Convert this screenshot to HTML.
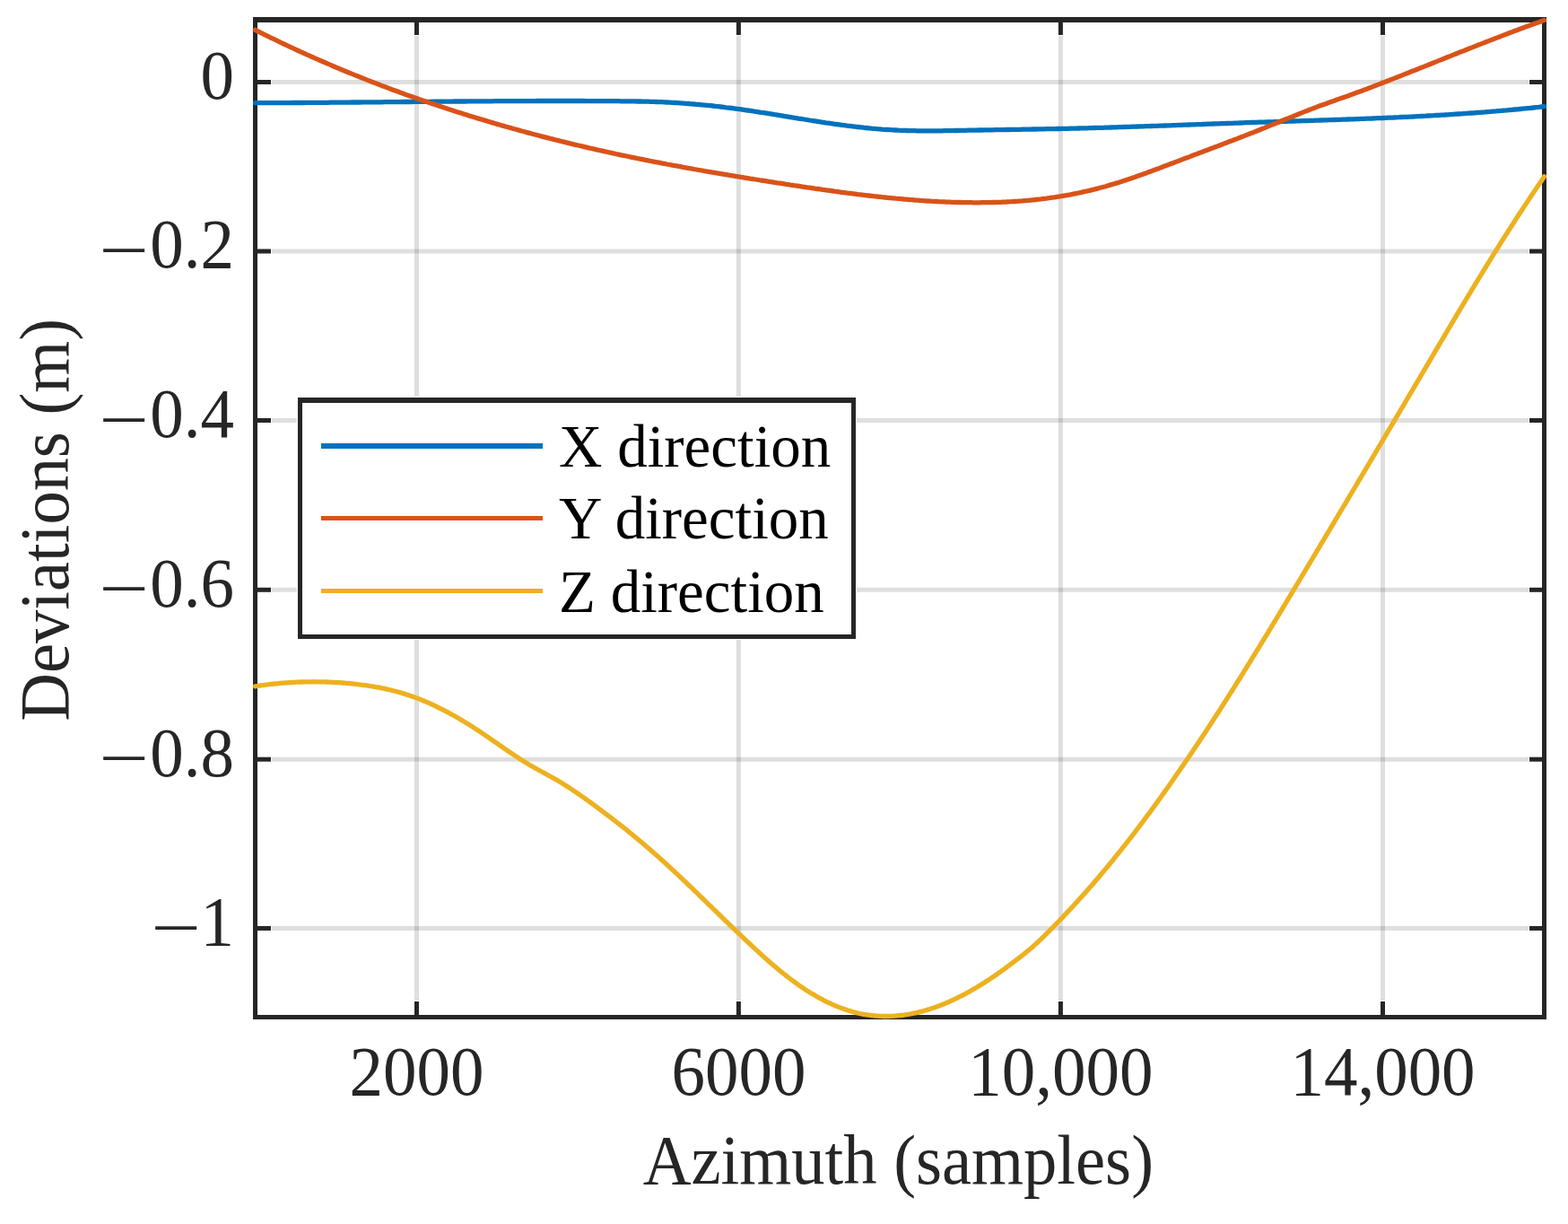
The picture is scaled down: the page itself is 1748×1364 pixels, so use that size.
<!DOCTYPE html>
<html><head><meta charset="utf-8"><title>Deviations plot</title>
<style>html,body{margin:0;padding:0;background:#fff;}svg{display:block;}svg text{font-family:"Liberation Serif","DejaVu Serif",serif;}</style></head>
<body><svg width="1748" height="1364" viewBox="0 0 1748 1364">
<rect width="1748" height="1364" fill="#fff"/>
<line x1="464.50" y1="40" x2="464.50" y2="1115" stroke="#262626" stroke-opacity="0.15" stroke-width="5"/>
<line x1="823.40" y1="40" x2="823.40" y2="1115" stroke="#262626" stroke-opacity="0.15" stroke-width="5"/>
<line x1="1182.40" y1="40" x2="1182.40" y2="1115" stroke="#262626" stroke-opacity="0.15" stroke-width="5"/>
<line x1="1541.50" y1="40" x2="1541.50" y2="1115" stroke="#262626" stroke-opacity="0.15" stroke-width="5"/>
<line x1="303" y1="91.50" x2="1704" y2="91.50" stroke="#262626" stroke-opacity="0.15" stroke-width="5"/>
<line x1="303" y1="280.00" x2="1704" y2="280.00" stroke="#262626" stroke-opacity="0.15" stroke-width="5"/>
<line x1="303" y1="468.50" x2="1704" y2="468.50" stroke="#262626" stroke-opacity="0.15" stroke-width="5"/>
<line x1="303" y1="657.30" x2="1704" y2="657.30" stroke="#262626" stroke-opacity="0.15" stroke-width="5"/>
<line x1="303" y1="846.20" x2="1704" y2="846.20" stroke="#262626" stroke-opacity="0.15" stroke-width="5"/>
<line x1="303" y1="1034.50" x2="1704" y2="1034.50" stroke="#262626" stroke-opacity="0.15" stroke-width="5"/>
<line x1="464.50" y1="1131" x2="464.50" y2="1116" stroke="#262626" stroke-width="5"/>
<line x1="464.50" y1="25" x2="464.50" y2="39" stroke="#262626" stroke-width="5"/>
<line x1="823.40" y1="1131" x2="823.40" y2="1116" stroke="#262626" stroke-width="5"/>
<line x1="823.40" y1="25" x2="823.40" y2="39" stroke="#262626" stroke-width="5"/>
<line x1="1182.40" y1="1131" x2="1182.40" y2="1116" stroke="#262626" stroke-width="5"/>
<line x1="1182.40" y1="25" x2="1182.40" y2="39" stroke="#262626" stroke-width="5"/>
<line x1="1541.50" y1="1131" x2="1541.50" y2="1116" stroke="#262626" stroke-width="5"/>
<line x1="1541.50" y1="25" x2="1541.50" y2="39" stroke="#262626" stroke-width="5"/>
<line x1="287" y1="91.50" x2="302" y2="91.50" stroke="#262626" stroke-width="5"/>
<line x1="1719" y1="91.50" x2="1705" y2="91.50" stroke="#262626" stroke-width="5"/>
<line x1="287" y1="280.00" x2="302" y2="280.00" stroke="#262626" stroke-width="5"/>
<line x1="1719" y1="280.00" x2="1705" y2="280.00" stroke="#262626" stroke-width="5"/>
<line x1="287" y1="468.50" x2="302" y2="468.50" stroke="#262626" stroke-width="5"/>
<line x1="1719" y1="468.50" x2="1705" y2="468.50" stroke="#262626" stroke-width="5"/>
<line x1="287" y1="657.30" x2="302" y2="657.30" stroke="#262626" stroke-width="5"/>
<line x1="1719" y1="657.30" x2="1705" y2="657.30" stroke="#262626" stroke-width="5"/>
<line x1="287" y1="846.20" x2="302" y2="846.20" stroke="#262626" stroke-width="5"/>
<line x1="1719" y1="846.20" x2="1705" y2="846.20" stroke="#262626" stroke-width="5"/>
<line x1="287" y1="1034.50" x2="302" y2="1034.50" stroke="#262626" stroke-width="5"/>
<line x1="1719" y1="1034.50" x2="1705" y2="1034.50" stroke="#262626" stroke-width="5"/>
<rect x="282" y="19" width="1442" height="6" fill="#262626"/>
<rect x="282" y="1131" width="1442" height="5" fill="#262626"/>
<rect x="282" y="19" width="5" height="1117" fill="#262626"/>
<rect x="1719" y="19" width="5" height="1117" fill="#262626"/>
<polyline points="284.5,114.7 287.5,114.7 290.5,114.7 293.5,114.7 296.5,114.7 299.5,114.7 302.5,114.7 305.5,114.7 308.5,114.6 311.5,114.6 314.5,114.6 317.5,114.6 320.5,114.6 323.5,114.6 326.5,114.5 329.5,114.5 332.5,114.5 335.5,114.5 338.5,114.5 341.5,114.4 344.5,114.4 347.5,114.4 350.5,114.4 353.5,114.4 356.5,114.3 359.5,114.3 362.5,114.3 365.5,114.3 368.5,114.2 371.5,114.2 374.5,114.2 377.5,114.2 380.5,114.1 383.5,114.1 386.5,114.1 389.5,114.1 392.5,114.0 395.5,114.0 398.5,114.0 401.5,114.0 404.5,113.9 407.5,113.9 410.5,113.9 413.5,113.9 416.5,113.8 419.5,113.8 422.5,113.8 425.5,113.8 428.5,113.7 431.5,113.7 434.5,113.7 437.5,113.6 440.5,113.6 443.5,113.6 446.5,113.6 449.5,113.5 452.5,113.5 455.5,113.5 458.5,113.5 461.5,113.4 464.5,113.4 467.5,113.4 470.5,113.3 473.5,113.3 476.5,113.3 479.5,113.3 482.5,113.2 485.5,113.2 488.5,113.2 491.5,113.2 494.5,113.1 497.5,113.1 500.5,113.1 503.5,113.1 506.5,113.0 509.5,113.0 512.5,113.0 515.5,113.0 518.5,113.0 521.5,112.9 524.5,112.9 527.5,112.9 530.5,112.9 533.5,112.9 536.5,112.8 539.5,112.8 542.5,112.8 545.5,112.8 548.5,112.8 551.5,112.7 554.5,112.7 557.5,112.7 560.5,112.7 563.5,112.7 566.5,112.7 569.5,112.6 572.5,112.6 575.5,112.6 578.5,112.6 581.5,112.6 584.5,112.6 587.5,112.6 590.5,112.6 593.5,112.6 596.5,112.6 599.5,112.5 602.5,112.5 605.5,112.5 608.5,112.5 611.5,112.5 614.5,112.5 617.5,112.5 620.5,112.5 623.5,112.5 626.5,112.5 629.5,112.5 632.5,112.5 635.5,112.5 638.5,112.5 641.5,112.5 644.5,112.5 647.5,112.5 650.5,112.5 653.5,112.6 656.5,112.6 659.5,112.6 662.5,112.6 665.5,112.6 668.5,112.6 671.5,112.6 674.5,112.6 677.5,112.7 680.5,112.7 683.5,112.7 686.5,112.7 689.5,112.7 692.5,112.8 695.5,112.8 698.5,112.8 701.5,112.9 704.5,112.9 707.5,112.9 710.5,113.0 713.5,113.0 716.5,113.1 719.5,113.2 722.5,113.2 725.5,113.3 728.5,113.4 731.5,113.5 734.5,113.6 737.5,113.7 740.5,113.9 743.5,114.0 746.5,114.1 749.5,114.3 752.5,114.5 755.5,114.7 758.5,114.9 761.5,115.1 764.5,115.3 767.5,115.5 770.5,115.8 773.5,116.0 776.5,116.3 779.5,116.5 782.5,116.8 785.5,117.1 788.5,117.4 791.5,117.7 794.5,118.0 797.5,118.4 800.5,118.7 803.5,119.0 806.5,119.4 809.5,119.8 812.5,120.1 815.5,120.5 818.5,120.9 821.5,121.3 824.5,121.7 827.5,122.1 830.5,122.6 833.5,123.0 836.5,123.4 839.5,123.9 842.5,124.3 845.5,124.8 848.5,125.3 851.5,125.7 854.5,126.2 857.5,126.7 860.5,127.2 863.5,127.7 866.5,128.1 869.5,128.6 872.5,129.1 875.5,129.6 878.5,130.1 881.5,130.6 884.5,131.1 887.5,131.6 890.5,132.1 893.5,132.5 896.5,133.0 899.5,133.5 902.5,134.0 905.5,134.5 908.5,134.9 911.5,135.4 914.5,135.9 917.5,136.3 920.5,136.8 923.5,137.2 926.5,137.6 929.5,138.1 932.5,138.5 935.5,138.9 938.5,139.3 941.5,139.7 944.5,140.1 947.5,140.4 950.5,140.8 953.5,141.2 956.5,141.5 959.5,141.8 962.5,142.2 965.5,142.5 968.5,142.8 971.5,143.1 974.5,143.3 977.5,143.6 980.5,143.8 983.5,144.1 986.5,144.3 989.5,144.5 992.5,144.7 995.5,144.9 998.5,145.0 1001.5,145.2 1004.5,145.3 1007.5,145.4 1010.5,145.5 1013.5,145.6 1016.5,145.7 1019.5,145.7 1022.5,145.8 1025.5,145.8 1028.5,145.8 1031.5,145.8 1034.5,145.8 1037.5,145.8 1040.5,145.8 1043.5,145.8 1046.5,145.8 1049.5,145.8 1052.5,145.7 1055.5,145.7 1058.5,145.6 1061.5,145.6 1064.5,145.5 1067.5,145.5 1070.5,145.4 1073.5,145.4 1076.5,145.3 1079.5,145.2 1082.5,145.2 1085.5,145.1 1088.5,145.1 1091.5,145.0 1094.5,145.0 1097.5,144.9 1100.5,144.9 1103.5,144.8 1106.5,144.8 1109.5,144.7 1112.5,144.7 1115.5,144.6 1118.5,144.6 1121.5,144.5 1124.5,144.5 1127.5,144.4 1130.5,144.4 1133.5,144.3 1136.5,144.3 1139.5,144.2 1142.5,144.2 1145.5,144.1 1148.5,144.1 1151.5,144.0 1154.5,144.0 1157.5,143.9 1160.5,143.9 1163.5,143.8 1166.5,143.7 1169.5,143.7 1172.5,143.6 1175.5,143.6 1178.5,143.5 1181.5,143.5 1184.5,143.4 1187.5,143.3 1190.5,143.3 1193.5,143.2 1196.5,143.1 1199.5,143.1 1202.5,143.0 1205.5,142.9 1208.5,142.8 1211.5,142.8 1214.5,142.7 1217.5,142.6 1220.5,142.5 1223.5,142.4 1226.5,142.3 1229.5,142.3 1232.5,142.2 1235.5,142.1 1238.5,142.0 1241.5,141.9 1244.5,141.8 1247.5,141.7 1250.5,141.6 1253.5,141.5 1256.5,141.4 1259.5,141.3 1262.5,141.2 1265.5,141.1 1268.5,141.0 1271.5,140.9 1274.5,140.8 1277.5,140.7 1280.5,140.6 1283.5,140.5 1286.5,140.4 1289.5,140.3 1292.5,140.2 1295.5,140.1 1298.5,140.0 1301.5,139.9 1304.5,139.8 1307.5,139.7 1310.5,139.6 1313.5,139.4 1316.5,139.3 1319.5,139.2 1322.5,139.1 1325.5,139.0 1328.5,138.9 1331.5,138.8 1334.5,138.7 1337.5,138.6 1340.5,138.5 1343.5,138.3 1346.5,138.2 1349.5,138.1 1352.5,138.0 1355.5,137.9 1358.5,137.8 1361.5,137.7 1364.5,137.6 1367.5,137.5 1370.5,137.4 1373.5,137.3 1376.5,137.2 1379.5,137.1 1382.5,137.0 1385.5,136.9 1388.5,136.7 1391.5,136.6 1394.5,136.5 1397.5,136.4 1400.5,136.3 1403.5,136.2 1406.5,136.2 1409.5,136.1 1412.5,136.0 1415.5,135.9 1418.5,135.8 1421.5,135.7 1424.5,135.6 1427.5,135.5 1430.5,135.4 1433.5,135.3 1436.5,135.2 1439.5,135.1 1442.5,135.0 1445.5,134.9 1448.5,134.8 1451.5,134.7 1454.5,134.6 1457.5,134.5 1460.5,134.4 1463.5,134.3 1466.5,134.2 1469.5,134.1 1472.5,134.0 1475.5,133.9 1478.5,133.8 1481.5,133.7 1484.5,133.6 1487.5,133.5 1490.5,133.4 1493.5,133.3 1496.5,133.2 1499.5,133.1 1502.5,133.0 1505.5,132.9 1508.5,132.8 1511.5,132.7 1514.5,132.6 1517.5,132.4 1520.5,132.3 1523.5,132.2 1526.5,132.1 1529.5,132.0 1532.5,131.8 1535.5,131.7 1538.5,131.6 1541.5,131.5 1544.5,131.3 1547.5,131.2 1550.5,131.1 1553.5,131.0 1556.5,130.8 1559.5,130.7 1562.5,130.5 1565.5,130.4 1568.5,130.3 1571.5,130.1 1574.5,130.0 1577.5,129.8 1580.5,129.6 1583.5,129.5 1586.5,129.3 1589.5,129.2 1592.5,129.0 1595.5,128.8 1598.5,128.7 1601.5,128.5 1604.5,128.3 1607.5,128.1 1610.5,128.0 1613.5,127.8 1616.5,127.6 1619.5,127.4 1622.5,127.2 1625.5,127.0 1628.5,126.8 1631.5,126.6 1634.5,126.4 1637.5,126.2 1640.5,126.0 1643.5,125.8 1646.5,125.5 1649.5,125.3 1652.5,125.1 1655.5,124.9 1658.5,124.6 1661.5,124.4 1664.5,124.1 1667.5,123.9 1670.5,123.6 1673.5,123.4 1676.5,123.1 1679.5,122.9 1682.5,122.6 1685.5,122.3 1688.5,122.0 1691.5,121.8 1694.5,121.5 1697.5,121.2 1700.5,120.9 1703.5,120.6 1706.5,120.3 1709.5,120.0 1712.5,119.7 1715.5,119.4 1718.5,119.0 1721.5,118.7" fill="none" stroke="#0072BD" stroke-width="5.3" stroke-linejoin="round" stroke-linecap="round"/>
<polyline points="284.5,33.3 287.5,34.8 290.5,36.4 293.5,37.8 296.5,39.3 299.5,40.8 302.5,42.3 305.5,43.7 308.5,45.2 311.5,46.6 314.5,48.1 317.5,49.5 320.5,50.9 323.5,52.3 326.5,53.7 329.5,55.1 332.5,56.5 335.5,57.9 338.5,59.2 341.5,60.6 344.5,61.9 347.5,63.3 350.5,64.6 353.5,65.9 356.5,67.2 359.5,68.5 362.5,69.8 365.5,71.1 368.5,72.4 371.5,73.7 374.5,75.0 377.5,76.2 380.5,77.5 383.5,78.7 386.5,80.0 389.5,81.2 392.5,82.4 395.5,83.6 398.5,84.8 401.5,86.0 404.5,87.2 407.5,88.4 410.5,89.6 413.5,90.8 416.5,91.9 419.5,93.1 422.5,94.2 425.5,95.4 428.5,96.5 431.5,97.6 434.5,98.8 437.5,99.9 440.5,101.0 443.5,102.1 446.5,103.2 449.5,104.3 452.5,105.4 455.5,106.4 458.5,107.5 461.5,108.6 464.5,109.6 467.5,110.7 470.5,111.7 473.5,112.7 476.5,113.8 479.5,114.8 482.5,115.8 485.5,116.8 488.5,117.8 491.5,118.8 494.5,119.8 497.5,120.8 500.5,121.8 503.5,122.7 506.5,123.7 509.5,124.7 512.5,125.6 515.5,126.6 518.5,127.5 521.5,128.4 524.5,129.4 527.5,130.3 530.5,131.2 533.5,132.1 536.5,133.0 539.5,133.9 542.5,134.8 545.5,135.7 548.5,136.6 551.5,137.5 554.5,138.4 557.5,139.2 560.5,140.1 563.5,141.0 566.5,141.8 569.5,142.6 572.5,143.5 575.5,144.3 578.5,145.1 581.5,146.0 584.5,146.8 587.5,147.6 590.5,148.4 593.5,149.2 596.5,150.0 599.5,150.8 602.5,151.6 605.5,152.4 608.5,153.1 611.5,153.9 614.5,154.7 617.5,155.4 620.5,156.2 623.5,156.9 626.5,157.7 629.5,158.4 632.5,159.1 635.5,159.9 638.5,160.6 641.5,161.3 644.5,162.0 647.5,162.7 650.5,163.4 653.5,164.1 656.5,164.8 659.5,165.5 662.5,166.2 665.5,166.9 668.5,167.5 671.5,168.2 674.5,168.9 677.5,169.5 680.5,170.2 683.5,170.8 686.5,171.5 689.5,172.1 692.5,172.8 695.5,173.4 698.5,174.0 701.5,174.7 704.5,175.3 707.5,175.9 710.5,176.5 713.5,177.1 716.5,177.7 719.5,178.3 722.5,178.9 725.5,179.5 728.5,180.1 731.5,180.7 734.5,181.2 737.5,181.8 740.5,182.4 743.5,183.0 746.5,183.5 749.5,184.1 752.5,184.6 755.5,185.2 758.5,185.7 761.5,186.3 764.5,186.8 767.5,187.4 770.5,187.9 773.5,188.5 776.5,189.0 779.5,189.5 782.5,190.0 785.5,190.6 788.5,191.1 791.5,191.6 794.5,192.1 797.5,192.6 800.5,193.1 803.5,193.6 806.5,194.1 809.5,194.6 812.5,195.1 815.5,195.6 818.5,196.1 821.5,196.6 824.5,197.1 827.5,197.6 830.5,198.1 833.5,198.6 836.5,199.1 839.5,199.5 842.5,200.0 845.5,200.5 848.5,201.0 851.5,201.4 854.5,201.9 857.5,202.4 860.5,202.8 863.5,203.3 866.5,203.8 869.5,204.2 872.5,204.7 875.5,205.2 878.5,205.6 881.5,206.1 884.5,206.5 887.5,207.0 890.5,207.4 893.5,207.9 896.5,208.3 899.5,208.8 902.5,209.2 905.5,209.6 908.5,210.1 911.5,210.5 914.5,210.9 917.5,211.4 920.5,211.8 923.5,212.2 926.5,212.6 929.5,213.0 932.5,213.5 935.5,213.9 938.5,214.3 941.5,214.7 944.5,215.1 947.5,215.4 950.5,215.8 953.5,216.2 956.5,216.6 959.5,216.9 962.5,217.3 965.5,217.7 968.5,218.0 971.5,218.3 974.5,218.7 977.5,219.0 980.5,219.3 983.5,219.7 986.5,220.0 989.5,220.3 992.5,220.6 995.5,220.9 998.5,221.2 1001.5,221.4 1004.5,221.7 1007.5,222.0 1010.5,222.2 1013.5,222.5 1016.5,222.7 1019.5,223.0 1022.5,223.2 1025.5,223.4 1028.5,223.6 1031.5,223.8 1034.5,224.0 1037.5,224.2 1040.5,224.3 1043.5,224.5 1046.5,224.7 1049.5,224.8 1052.5,224.9 1055.5,225.1 1058.5,225.2 1061.5,225.3 1064.5,225.4 1067.5,225.5 1070.5,225.5 1073.5,225.6 1076.5,225.7 1079.5,225.7 1082.5,225.7 1085.5,225.8 1088.5,225.8 1091.5,225.8 1094.5,225.7 1097.5,225.7 1100.5,225.7 1103.5,225.6 1106.5,225.5 1109.5,225.5 1112.5,225.4 1115.5,225.3 1118.5,225.1 1121.5,225.0 1124.5,224.8 1127.5,224.7 1130.5,224.5 1133.5,224.3 1136.5,224.1 1139.5,223.9 1142.5,223.6 1145.5,223.4 1148.5,223.1 1151.5,222.8 1154.5,222.5 1157.5,222.1 1160.5,221.8 1163.5,221.4 1166.5,221.1 1169.5,220.7 1172.5,220.2 1175.5,219.8 1178.5,219.3 1181.5,218.9 1184.5,218.4 1187.5,217.9 1190.5,217.3 1193.5,216.8 1196.5,216.2 1199.5,215.6 1202.5,215.0 1205.5,214.4 1208.5,213.7 1211.5,213.0 1214.5,212.3 1217.5,211.6 1220.5,210.9 1223.5,210.1 1226.5,209.3 1229.5,208.5 1232.5,207.7 1235.5,206.8 1238.5,205.9 1241.5,205.0 1244.5,204.1 1247.5,203.2 1250.5,202.2 1253.5,201.2 1256.5,200.2 1259.5,199.2 1262.5,198.2 1265.5,197.2 1268.5,196.1 1271.5,195.1 1274.5,194.0 1277.5,192.9 1280.5,191.8 1283.5,190.7 1286.5,189.6 1289.5,188.5 1292.5,187.4 1295.5,186.2 1298.5,185.1 1301.5,184.0 1304.5,182.8 1307.5,181.7 1310.5,180.6 1313.5,179.4 1316.5,178.3 1319.5,177.1 1322.5,176.0 1325.5,174.9 1328.5,173.7 1331.5,172.6 1334.5,171.5 1337.5,170.3 1340.5,169.2 1343.5,168.1 1346.5,167.0 1349.5,165.8 1352.5,164.7 1355.5,163.6 1358.5,162.4 1361.5,161.3 1364.5,160.1 1367.5,159.0 1370.5,157.8 1373.5,156.7 1376.5,155.5 1379.5,154.4 1382.5,153.2 1385.5,152.1 1388.5,150.9 1391.5,149.7 1394.5,148.5 1397.5,147.4 1400.5,146.2 1403.5,145.0 1406.5,143.8 1409.5,142.6 1412.5,141.3 1415.5,140.1 1418.5,138.9 1421.5,137.7 1424.5,136.5 1427.5,135.2 1430.5,134.0 1433.5,132.8 1436.5,131.6 1439.5,130.4 1442.5,129.2 1445.5,128.0 1448.5,126.8 1451.5,125.6 1454.5,124.4 1457.5,123.2 1460.5,122.1 1463.5,120.9 1466.5,119.8 1469.5,118.6 1472.5,117.5 1475.5,116.4 1478.5,115.4 1481.5,114.3 1484.5,113.2 1487.5,112.2 1490.5,111.1 1493.5,110.1 1496.5,109.0 1499.5,108.0 1502.5,106.9 1505.5,105.8 1508.5,104.7 1511.5,103.6 1514.5,102.5 1517.5,101.4 1520.5,100.3 1523.5,99.2 1526.5,98.0 1529.5,96.9 1532.5,95.7 1535.5,94.6 1538.5,93.4 1541.5,92.3 1544.5,91.1 1547.5,90.0 1550.5,88.8 1553.5,87.6 1556.5,86.4 1559.5,85.3 1562.5,84.1 1565.5,82.9 1568.5,81.7 1571.5,80.5 1574.5,79.3 1577.5,78.2 1580.5,77.0 1583.5,75.8 1586.5,74.6 1589.5,73.4 1592.5,72.2 1595.5,71.0 1598.5,69.8 1601.5,68.6 1604.5,67.4 1607.5,66.2 1610.5,65.0 1613.5,63.8 1616.5,62.6 1619.5,61.4 1622.5,60.2 1625.5,59.0 1628.5,57.8 1631.5,56.7 1634.5,55.5 1637.5,54.3 1640.5,53.1 1643.5,51.9 1646.5,50.7 1649.5,49.6 1652.5,48.4 1655.5,47.2 1658.5,46.1 1661.5,44.9 1664.5,43.7 1667.5,42.6 1670.5,41.4 1673.5,40.3 1676.5,39.1 1679.5,38.0 1682.5,36.8 1685.5,35.7 1688.5,34.6 1691.5,33.5 1694.5,32.3 1697.5,31.2 1700.5,30.1 1703.5,29.0 1706.5,27.9 1709.5,26.8 1712.5,25.7 1715.5,24.7 1718.5,23.6 1721.5,22.5" fill="none" stroke="#D95319" stroke-width="5.3" stroke-linejoin="round" stroke-linecap="round"/>
<polyline points="284.5,764.8 286.5,764.5 288.5,764.2 290.5,763.9 292.5,763.6 294.5,763.4 296.5,763.1 298.5,762.9 300.5,762.6 302.5,762.4 304.5,762.2 306.5,762.0 308.5,761.8 310.5,761.6 312.5,761.4 314.5,761.2 316.5,761.1 318.5,760.9 320.5,760.8 322.5,760.6 324.5,760.5 326.5,760.4 328.5,760.3 330.5,760.2 332.5,760.1 334.5,760.0 336.5,760.0 338.5,759.9 340.5,759.9 342.5,759.8 344.5,759.8 346.5,759.8 348.5,759.8 350.5,759.7 352.5,759.8 354.5,759.8 356.5,759.8 358.5,759.8 360.5,759.9 362.5,759.9 364.5,760.0 366.5,760.1 368.5,760.2 370.5,760.3 372.5,760.4 374.5,760.5 376.5,760.6 378.5,760.7 380.5,760.9 382.5,761.0 384.5,761.2 386.5,761.3 388.5,761.5 390.5,761.7 392.5,761.9 394.5,762.1 396.5,762.3 398.5,762.6 400.5,762.8 402.5,763.1 404.5,763.3 406.5,763.6 408.5,763.9 410.5,764.2 412.5,764.5 414.5,764.8 416.5,765.1 418.5,765.5 420.5,765.8 422.5,766.2 424.5,766.6 426.5,767.0 428.5,767.4 430.5,767.9 432.5,768.3 434.5,768.8 436.5,769.3 438.5,769.8 440.5,770.3 442.5,770.8 444.5,771.3 446.5,771.9 448.5,772.5 450.5,773.1 452.5,773.7 454.5,774.4 456.5,775.0 458.5,775.7 460.5,776.4 462.5,777.1 464.5,777.9 466.5,778.6 468.5,779.4 470.5,780.2 472.5,781.0 474.5,781.9 476.5,782.7 478.5,783.6 480.5,784.5 482.5,785.4 484.5,786.4 486.5,787.3 488.5,788.3 490.5,789.3 492.5,790.3 494.5,791.3 496.5,792.4 498.5,793.4 500.5,794.5 502.5,795.6 504.5,796.7 506.5,797.8 508.5,798.9 510.5,800.1 512.5,801.3 514.5,802.4 516.5,803.6 518.5,804.9 520.5,806.1 522.5,807.3 524.5,808.6 526.5,809.8 528.5,811.1 530.5,812.4 532.5,813.7 534.5,815.0 536.5,816.4 538.5,817.7 540.5,819.1 542.5,820.4 544.5,821.8 546.5,823.2 548.5,824.6 550.5,826.0 552.5,827.3 554.5,828.7 556.5,830.1 558.5,831.5 560.5,832.9 562.5,834.3 564.5,835.7 566.5,837.0 568.5,838.4 570.5,839.7 572.5,841.1 574.5,842.4 576.5,843.7 578.5,845.0 580.5,846.3 582.5,847.6 584.5,848.8 586.5,850.1 588.5,851.3 590.5,852.5 592.5,853.6 594.5,854.8 596.5,855.9 598.5,857.0 600.5,858.1 602.5,859.2 604.5,860.3 606.5,861.4 608.5,862.5 610.5,863.6 612.5,864.7 614.5,865.8 616.5,866.9 618.5,868.0 620.5,869.1 622.5,870.3 624.5,871.5 626.5,872.7 628.5,873.9 630.5,875.2 632.5,876.5 634.5,877.8 636.5,879.1 638.5,880.4 640.5,881.8 642.5,883.1 644.5,884.5 646.5,885.9 648.5,887.3 650.5,888.7 652.5,890.1 654.5,891.5 656.5,893.0 658.5,894.4 660.5,895.9 662.5,897.3 664.5,898.8 666.5,900.3 668.5,901.8 670.5,903.3 672.5,904.8 674.5,906.3 676.5,907.8 678.5,909.3 680.5,910.8 682.5,912.4 684.5,913.9 686.5,915.5 688.5,917.0 690.5,918.6 692.5,920.2 694.5,921.7 696.5,923.3 698.5,924.9 700.5,926.5 702.5,928.2 704.5,929.8 706.5,931.4 708.5,933.1 710.5,934.7 712.5,936.4 714.5,938.1 716.5,939.8 718.5,941.5 720.5,943.2 722.5,944.9 724.5,946.6 726.5,948.4 728.5,950.1 730.5,951.9 732.5,953.6 734.5,955.4 736.5,957.2 738.5,959.0 740.5,960.8 742.5,962.6 744.5,964.5 746.5,966.3 748.5,968.2 750.5,970.0 752.5,971.9 754.5,973.7 756.5,975.6 758.5,977.5 760.5,979.4 762.5,981.3 764.5,983.2 766.5,985.1 768.5,987.0 770.5,988.9 772.5,990.8 774.5,992.8 776.5,994.7 778.5,996.6 780.5,998.6 782.5,1000.5 784.5,1002.4 786.5,1004.4 788.5,1006.3 790.5,1008.3 792.5,1010.2 794.5,1012.2 796.5,1014.1 798.5,1016.0 800.5,1018.0 802.5,1019.9 804.5,1021.9 806.5,1023.8 808.5,1025.8 810.5,1027.7 812.5,1029.6 814.5,1031.6 816.5,1033.5 818.5,1035.4 820.5,1037.3 822.5,1039.2 824.5,1041.2 826.5,1043.1 828.5,1045.0 830.5,1046.9 832.5,1048.7 834.5,1050.6 836.5,1052.5 838.5,1054.4 840.5,1056.2 842.5,1058.1 844.5,1059.9 846.5,1061.7 848.5,1063.6 850.5,1065.4 852.5,1067.2 854.5,1068.9 856.5,1070.7 858.5,1072.5 860.5,1074.2 862.5,1075.9 864.5,1077.6 866.5,1079.3 868.5,1081.0 870.5,1082.6 872.5,1084.2 874.5,1085.8 876.5,1087.4 878.5,1089.0 880.5,1090.5 882.5,1092.0 884.5,1093.5 886.5,1094.9 888.5,1096.4 890.5,1097.8 892.5,1099.2 894.5,1100.5 896.5,1101.9 898.5,1103.2 900.5,1104.4 902.5,1105.7 904.5,1106.9 906.5,1108.1 908.5,1109.3 910.5,1110.5 912.5,1111.6 914.5,1112.7 916.5,1113.7 918.5,1114.8 920.5,1115.8 922.5,1116.8 924.5,1117.7 926.5,1118.7 928.5,1119.6 930.5,1120.4 932.5,1121.3 934.5,1122.1 936.5,1122.9 938.5,1123.6 940.5,1124.4 942.5,1125.0 944.5,1125.7 946.5,1126.3 948.5,1126.9 950.5,1127.5 952.5,1128.0 954.5,1128.6 956.5,1129.0 958.5,1129.5 960.5,1129.9 962.5,1130.3 964.5,1130.6 966.5,1130.9 968.5,1131.2 970.5,1131.5 972.5,1131.7 974.5,1131.9 976.5,1132.1 978.5,1132.2 980.5,1132.4 982.5,1132.4 984.5,1132.5 986.5,1132.5 988.5,1132.5 990.5,1132.5 992.5,1132.4 994.5,1132.4 996.5,1132.2 998.5,1132.1 1000.5,1131.9 1002.5,1131.7 1004.5,1131.5 1006.5,1131.3 1008.5,1131.0 1010.5,1130.7 1012.5,1130.4 1014.5,1130.0 1016.5,1129.6 1018.5,1129.2 1020.5,1128.8 1022.5,1128.4 1024.5,1127.9 1026.5,1127.4 1028.5,1126.9 1030.5,1126.3 1032.5,1125.7 1034.5,1125.1 1036.5,1124.5 1038.5,1123.8 1040.5,1123.2 1042.5,1122.5 1044.5,1121.8 1046.5,1121.0 1048.5,1120.3 1050.5,1119.5 1052.5,1118.7 1054.5,1117.8 1056.5,1117.0 1058.5,1116.1 1060.5,1115.2 1062.5,1114.3 1064.5,1113.3 1066.5,1112.4 1068.5,1111.4 1070.5,1110.4 1072.5,1109.4 1074.5,1108.3 1076.5,1107.3 1078.5,1106.2 1080.5,1105.1 1082.5,1104.0 1084.5,1102.8 1086.5,1101.6 1088.5,1100.5 1090.5,1099.3 1092.5,1098.1 1094.5,1096.8 1096.5,1095.6 1098.5,1094.3 1100.5,1093.0 1102.5,1091.7 1104.5,1090.4 1106.5,1089.0 1108.5,1087.7 1110.5,1086.3 1112.5,1084.9 1114.5,1083.5 1116.5,1082.0 1118.5,1080.6 1120.5,1079.1 1122.5,1077.6 1124.5,1076.1 1126.5,1074.6 1128.5,1073.1 1130.5,1071.6 1132.5,1070.1 1134.5,1068.6 1136.5,1067.1 1138.5,1065.6 1140.5,1064.0 1142.5,1062.4 1144.5,1060.8 1146.5,1059.1 1148.5,1057.4 1150.5,1055.7 1152.5,1053.9 1154.5,1052.1 1156.5,1050.3 1158.5,1048.4 1160.5,1046.6 1162.5,1044.6 1164.5,1042.7 1166.5,1040.7 1168.5,1038.7 1170.5,1036.7 1172.5,1034.7 1174.5,1032.6 1176.5,1030.6 1178.5,1028.5 1180.5,1026.5 1182.5,1024.4 1184.5,1022.3 1186.5,1020.2 1188.5,1018.1 1190.5,1015.9 1192.5,1013.8 1194.5,1011.6 1196.5,1009.5 1198.5,1007.3 1200.5,1005.1 1202.5,1002.9 1204.5,1000.7 1206.5,998.5 1208.5,996.2 1210.5,994.0 1212.5,991.7 1214.5,989.4 1216.5,987.2 1218.5,984.9 1220.5,982.5 1222.5,980.2 1224.5,977.9 1226.5,975.5 1228.5,973.1 1230.5,970.8 1232.5,968.4 1234.5,966.0 1236.5,963.5 1238.5,961.1 1240.5,958.7 1242.5,956.2 1244.5,953.7 1246.5,951.2 1248.5,948.7 1250.5,946.2 1252.5,943.7 1254.5,941.2 1256.5,938.6 1258.5,936.0 1260.5,933.5 1262.5,930.9 1264.5,928.3 1266.5,925.7 1268.5,923.0 1270.5,920.4 1272.5,917.7 1274.5,915.1 1276.5,912.4 1278.5,909.7 1280.5,907.0 1282.5,904.3 1284.5,901.5 1286.5,898.8 1288.5,896.0 1290.5,893.3 1292.5,890.5 1294.5,887.7 1296.5,884.9 1298.5,882.1 1300.5,879.3 1302.5,876.4 1304.5,873.6 1306.5,870.8 1308.5,867.9 1310.5,865.0 1312.5,862.1 1314.5,859.2 1316.5,856.3 1318.5,853.4 1320.5,850.5 1322.5,847.6 1324.5,844.6 1326.5,841.7 1328.5,838.7 1330.5,835.8 1332.5,832.8 1334.5,829.8 1336.5,826.8 1338.5,823.8 1340.5,820.8 1342.5,817.7 1344.5,814.7 1346.5,811.6 1348.5,808.6 1350.5,805.5 1352.5,802.4 1354.5,799.4 1356.5,796.3 1358.5,793.2 1360.5,790.1 1362.5,786.9 1364.5,783.8 1366.5,780.7 1368.5,777.5 1370.5,774.4 1372.5,771.2 1374.5,768.1 1376.5,764.9 1378.5,761.7 1380.5,758.5 1382.5,755.3 1384.5,752.1 1386.5,748.9 1388.5,745.7 1390.5,742.4 1392.5,739.2 1394.5,736.0 1396.5,732.7 1398.5,729.5 1400.5,726.2 1402.5,723.0 1404.5,719.7 1406.5,716.4 1408.5,713.1 1410.5,709.9 1412.5,706.6 1414.5,703.3 1416.5,700.0 1418.5,696.7 1420.5,693.4 1422.5,690.1 1424.5,686.8 1426.5,683.4 1428.5,680.1 1430.5,676.8 1432.5,673.5 1434.5,670.2 1436.5,666.8 1438.5,663.5 1440.5,660.2 1442.5,656.8 1444.5,653.5 1446.5,650.2 1448.5,646.8 1450.5,643.5 1452.5,640.2 1454.5,636.8 1456.5,633.5 1458.5,630.2 1460.5,626.8 1462.5,623.5 1464.5,620.1 1466.5,616.8 1468.5,613.4 1470.5,610.1 1472.5,606.7 1474.5,603.4 1476.5,600.1 1478.5,596.7 1480.5,593.3 1482.5,590.0 1484.5,586.6 1486.5,583.3 1488.5,579.9 1490.5,576.6 1492.5,573.2 1494.5,569.9 1496.5,566.5 1498.5,563.1 1500.5,559.8 1502.5,556.4 1504.5,553.1 1506.5,549.7 1508.5,546.3 1510.5,543.0 1512.5,539.6 1514.5,536.2 1516.5,532.9 1518.5,529.5 1520.5,526.1 1522.5,522.8 1524.5,519.4 1526.5,516.0 1528.5,512.6 1530.5,509.3 1532.5,505.9 1534.5,502.5 1536.5,499.1 1538.5,495.8 1540.5,492.4 1542.5,489.0 1544.5,485.6 1546.5,482.2 1548.5,478.9 1550.5,475.5 1552.5,472.1 1554.5,468.7 1556.5,465.3 1558.5,461.9 1560.5,458.6 1562.5,455.2 1564.5,451.8 1566.5,448.4 1568.5,445.0 1570.5,441.6 1572.5,438.2 1574.5,434.8 1576.5,431.4 1578.5,428.0 1580.5,424.7 1582.5,421.3 1584.5,417.9 1586.5,414.5 1588.5,411.1 1590.5,407.7 1592.5,404.3 1594.5,400.9 1596.5,397.5 1598.5,394.1 1600.5,390.7 1602.5,387.3 1604.5,383.9 1606.5,380.5 1608.5,377.2 1610.5,373.8 1612.5,370.4 1614.5,367.0 1616.5,363.6 1618.5,360.3 1620.5,356.9 1622.5,353.6 1624.5,350.2 1626.5,346.9 1628.5,343.5 1630.5,340.2 1632.5,336.8 1634.5,333.5 1636.5,330.2 1638.5,326.9 1640.5,323.5 1642.5,320.2 1644.5,316.9 1646.5,313.7 1648.5,310.4 1650.5,307.1 1652.5,303.8 1654.5,300.6 1656.5,297.3 1658.5,294.1 1660.5,290.8 1662.5,287.6 1664.5,284.4 1666.5,281.2 1668.5,278.0 1670.5,274.8 1672.5,271.6 1674.5,268.4 1676.5,265.3 1678.5,262.1 1680.5,259.0 1682.5,255.8 1684.5,252.7 1686.5,249.6 1688.5,246.5 1690.5,243.4 1692.5,240.3 1694.5,237.3 1696.5,234.2 1698.5,231.1 1700.5,228.1 1702.5,225.1 1704.5,222.1 1706.5,219.0 1708.5,216.1 1710.5,213.1 1712.5,210.1 1714.5,207.1 1716.5,204.2 1718.5,201.2 1720.5,198.3 1721.5,196.8" fill="none" stroke="#EDB120" stroke-width="5.3" stroke-linejoin="round" stroke-linecap="round"/>
<text transform="translate(464.50,1219.8) scale(1,1.045)" text-anchor="middle" font-size="75"  fill="#262626">2000</text>
<text transform="translate(823.40,1219.8) scale(1,1.045)" text-anchor="middle" font-size="75"  fill="#262626">6000</text>
<text transform="translate(1182.40,1219.8) scale(1,1.045)" text-anchor="middle" font-size="75"  fill="#262626">10,000</text>
<text transform="translate(1541.50,1219.8) scale(1,1.045)" text-anchor="middle" font-size="75"  fill="#262626">14,000</text>
<text transform="translate(261,109.80) scale(1,1.045)" text-anchor="end" font-size="75"  fill="#262626">0</text>
<text transform="translate(109.97,304.00) scale(1.318,1)" font-size="75"  fill="#262626">−</text>
<text transform="translate(261,298.30) scale(1,1.045)" text-anchor="end" font-size="75"  fill="#262626">0.2</text>
<text transform="translate(109.97,492.50) scale(1.318,1)" font-size="75"  fill="#262626">−</text>
<text transform="translate(261,486.80) scale(1,1.045)" text-anchor="end" font-size="75"  fill="#262626">0.4</text>
<text transform="translate(109.97,681.30) scale(1.318,1)" font-size="75"  fill="#262626">−</text>
<text transform="translate(261,675.60) scale(1,1.045)" text-anchor="end" font-size="75"  fill="#262626">0.6</text>
<text transform="translate(109.97,870.20) scale(1.318,1)" font-size="75"  fill="#262626">−</text>
<text transform="translate(261,864.50) scale(1,1.045)" text-anchor="end" font-size="75"  fill="#262626">0.8</text>
<text transform="translate(167.97,1058.50) scale(1.318,1)" font-size="75"  fill="#262626">−</text>
<text transform="translate(261,1052.80) scale(1,1.045)" text-anchor="end" font-size="75"  fill="#262626">1</text>
<text transform="translate(1001.3,1318.8) scale(0.994,1.03)" text-anchor="middle" font-size="75"  fill="#262626">Azimuth (samples)</text>
<text transform="translate(75.6,579.4) rotate(-90) scale(0.993,1.03)" text-anchor="middle" font-size="75"  fill="#262626">Deviations (m)</text>
<rect x="331" y="442" width="624" height="271" fill="#fff"/>
<rect x="332" y="443" width="622" height="6" fill="#262626"/>
<rect x="332" y="707" width="622" height="5" fill="#262626"/>
<rect x="332" y="443" width="5" height="269" fill="#262626"/>
<rect x="949" y="443" width="5" height="269" fill="#262626"/>
<rect x="358" y="494" width="247" height="6" fill="#0072BD"/>
<text x="623" y="520.4" font-size="67"  fill="#000">X direction</text>
<rect x="358" y="575" width="247" height="5" fill="#D95319"/>
<text x="623" y="600.1" font-size="67"  fill="#000">Y direction</text>
<rect x="358" y="656" width="247" height="5" fill="#EDB120"/>
<text x="623" y="681.5" font-size="67"  fill="#000">Z direction</text>
</svg></body></html>
